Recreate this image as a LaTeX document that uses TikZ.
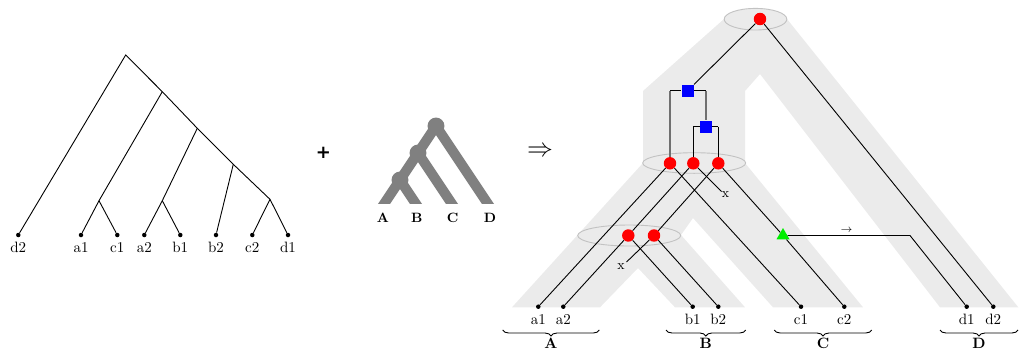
\documentclass[tikz,border=0pt]{standalone}
\usepackage{fontspec}
\newfontfamily\plusfont{DejaVu Sans}
\usetikzlibrary{shapes.geometric,decorations.pathreplacing}
\definecolor{bandgray}{HTML}{EBEBEB}
\definecolor{ringgray}{HTML}{C2C2C2}
\definecolor{sptree}{HTML}{808080}
\definecolor{dupline}{HTML}{707070}
\definecolor{transgreen}{HTML}{00EE00}
\begin{document}
\begin{tikzpicture}[x=0.667pt,y=-0.667pt,
  gline/.style={line width=0.6pt, black},
  leafdot/.style={circle, fill=black, inner sep=0pt, minimum size=3pt},
  specnode/.style={circle, fill=red, inner sep=0pt, minimum size=8.3pt},
  dupnode/.style={rectangle, fill=blue, inner sep=0pt, minimum size=8pt},
  transnode/.style={regular polygon, regular polygon sides=3, fill=transgreen, inner sep=0pt, minimum size=10pt},
  leaflab/.style={anchor=base, inner sep=0pt, font=\normalsize},
  splab/.style={anchor=base, inner sep=0pt, font=\small\bfseries},
  grouplab/.style={anchor=base, inner sep=0pt, font=\normalsize\bfseries},
  losslab/.style={inner sep=0pt, font=\small},
  ring/.style={draw=ringgray, fill=bandgray, line width=0.6pt},
  spbranch/.style={draw=sptree, line width=6.7pt, line join=round},
  spdot/.style={circle, fill=sptree, inner sep=0pt, minimum size=11.3pt},
  groupbrace/.style={decorate, decoration={brace, mirror, amplitude=4pt}, line width=0.6pt}]
\useasboundingbox (0,0) rectangle (1019,354);

% ---------------- left gene tree ----------------
\coordinate (L0) at (125.7,55);
\coordinate (L1) at (162.3,91.7);
\coordinate (L2) at (197.3,128.3);
\coordinate (L3) at (233.3,164.3);
\coordinate (L4) at (270,199.3);
\coordinate (Lac) at (99,200.7);
\coordinate (Lab) at (162.3,200.7);
\node[leafdot] (ld2) at (18.3,235) {};
\node[leafdot] (la1) at (81,235) {};
\node[leafdot] (lc1) at (117.3,235) {};
\node[leafdot] (la2) at (144.3,235) {};
\node[leafdot] (lb1) at (180.3,235) {};
\node[leafdot] (lb2) at (216,235) {};
\node[leafdot] (lc2) at (252.3,235) {};
\node[leafdot] (ld1) at (288,235) {};
\draw[gline] (ld2) -- (L0) -- (L1) -- (L2) -- (L3) -- (L4) -- (ld1);
\draw[gline] (L1) -- (Lac);
\draw[gline] (Lac) -- (la1);
\draw[gline] (Lac) -- (lc1);
\draw[gline] (L2) -- (Lab);
\draw[gline] (Lab) -- (la2);
\draw[gline] (Lab) -- (lb1);
\draw[gline] (L3) -- (lb2);
\draw[gline] (L4) -- (lc2);
\node[leaflab] (tld2) at (18.3,252.3) {d2};
\node[leaflab] (tla1) at (81,252.3) {a1};
\node[leaflab] (tlc1) at (117.3,252.3) {c1};
\node[leaflab] (tla2) at (144.3,252.3) {a2};
\node[leaflab] (tlb1) at (180.3,252.3) {b1};
\node[leaflab] (tlb2) at (216,252.3) {b2};
\node[leaflab] (tlc2) at (252.3,252.3) {c2};
\node[leaflab] (tld1) at (288,252.3) {d1};

% ---------------- plus ----------------
\node[inner sep=0pt, font=\large\plusfont\bfseries] (plus) at (323.3,153.3) {+};

% ---------------- species tree ----------------
\coordinate (sproot) at (436,126);
\coordinate (spmid) at (418,153);
\coordinate (splow) at (400,180);
\coordinate (spA) at (378,213);
\coordinate (spB) at (422,213);
\coordinate (spC) at (458,213);
\coordinate (spD) at (494,213);
\begin{scope}
  \clip (360,100) rectangle (520,203.3);
  \draw[spbranch] (sproot) -- (spD);
  \draw[spbranch] (sproot) -- (spmid) -- (splow) -- (spA);
  \draw[spbranch] (spmid) -- (spC);
  \draw[spbranch] (splow) -- (spB);
\end{scope}
\node[spdot] (sprootdot) at (sproot) {};
\node[spdot] (spmiddot) at (spmid) {};
\node[spdot] (splowdot) at (splow) {};
\node[splab] (spAl) at (382.8,222.7) {A};
\node[splab] (spBl) at (416.7,222.7) {B};
\node[splab] (spCl) at (452.7,222.7) {C};
\node[splab] (spDl) at (490,222.7) {D};

% ---------------- implies ----------------
\node[font=\LARGE, inner sep=0pt] (imp) at (540,151.7) {$\Rightarrow$};

% ---------------- reconciliation background ----------------
\fill[bandgray] (724,19) -- (643,91) -- (643,163) -- (512,307.3) -- (600,307.3)
  -- (638,268) -- (675,307.3) -- (745,307.3) -- (681,235) -- (693,218)
  -- (773,307.3) -- (863,307.3) -- (745,163) -- (745,91) -- (760,74)
  -- (940,307.3) -- (1018.3,307.3) -- (787,19) -- cycle;
\path[ring] (755.5,19.2) ellipse [x radius=31.3, y radius=10.8];
\path[ring] (694.2,163) ellipse [x radius=51.5, y radius=10.3];
\path[ring] (629.2,235.5) ellipse [x radius=51.5, y radius=10.5];

% ---------------- reconciled gene tree ----------------
\node[specnode] (g0) at (760,19) {};
\node[dupnode] (g1) at (687.7,90.7) {};
\node[dupnode] (g2) at (706,126.7) {};
\node[specnode] (s1) at (670,163.3) {};
\node[specnode] (s2) at (693.3,163.3) {};
\node[specnode] (s3) at (718.3,163.3) {};
\node[specnode] (t1) at (628.3,235.5) {};
\node[specnode] (t2) at (654,235.5) {};
\node[transnode] (tr) at (783,235.5) {};
\node[leafdot] (ga1) at (538.3,306.7) {};
\node[leafdot] (ga2) at (563.3,306.7) {};
\node[leafdot] (gb1) at (692.7,306.7) {};
\node[leafdot] (gb2) at (718.3,306.7) {};
\node[leafdot] (gc1) at (801,306.7) {};
\node[leafdot] (gc2) at (844.3,306.7) {};
\node[leafdot] (gd1) at (966.7,306.7) {};
\node[leafdot] (gd2) at (993.3,306.7) {};
\coordinate (g1l) at (670,90.7);
\coordinate (g1r) at (706,90.7);
\coordinate (g2l) at (693.3,126.7);
\coordinate (g2r) at (718.3,126.7);
\coordinate (x1e) at (721.5,191.5);
\coordinate (x2e) at (626.5,262);
\coordinate (tc) at (910,235.5);

\draw[gline] (g0) -- (g1);
\draw[gline] (g0) -- (gd2);
\draw[gline] (g1l) -- (g1);
\draw[gline] (g1) -- (g1r);
\draw[draw=dupline, line width=1pt] (g1l) -- (s1);
\draw[draw=dupline, line width=1pt] (g1r) -- (g2);
\draw[gline] (g2l) -- (g2);
\draw[gline] (g2) -- (g2r);
\draw[gline] (g2l) -- (s2);
\draw[gline] (g2r) -- (s3);
\draw[gline] (s1) -- (ga1);
\draw[gline] (s1) -- (gc1);
\draw[gline] (s2) -- (t1);
\draw[gline] (s2) -- (x1e);
\draw[gline] (t1) -- (ga2);
\draw[gline] (t1) -- (gb1);
\draw[gline] (s3) -- (t2);
\draw[gline] (s3) -- (tr);
\draw[gline] (t2) -- (x2e);
\draw[gline] (t2) -- (gb2);
\draw[gline] (tr) -- (gc2);
\draw[gline] (tr) -- (tc) -- (gd1);

\node[losslab] (x1) at (725.5,195) {x};
\node[losslab] (x2) at (621,266.7) {x};
\node[inner sep=0pt] (tarrow) at (846.5,230.5) {$\scriptstyle\rightarrow$};

\node[leaflab] (tga1) at (538.3,324) {a1};
\node[leaflab] (tga2) at (563.3,324) {a2};
\node[leaflab] (tgb1) at (692.7,324) {b1};
\node[leaflab] (tgb2) at (718.3,324) {b2};
\node[leaflab] (tgc1) at (801,324) {c1};
\node[leaflab] (tgc2) at (844.3,324) {c2};
\node[leaflab] (tgd1) at (966.7,324) {d1};
\node[leaflab] (tgd2) at (993.3,324) {d2};

% ---------------- group braces ----------------
\coordinate (bAl) at (502.7,330);
\coordinate (bAr) at (599.3,330);
\coordinate (bBl) at (666,330);
\coordinate (bBr) at (745.7,330);
\coordinate (bCl) at (774.3,330);
\coordinate (bCr) at (871.7,330);
\coordinate (bDl) at (940,330);
\coordinate (bDr) at (1018,330);
\draw[groupbrace] (bAl) -- (bAr);
\draw[groupbrace] (bBl) -- (bBr);
\draw[groupbrace] (bCl) -- (bCr);
\draw[groupbrace] (bDl) -- (bDr);
\node[grouplab] (gA) at (551,348.3) {A};
\node[grouplab] (gB) at (705.8,348.3) {B};
\node[grouplab] (gC) at (823,348.3) {C};
\node[grouplab] (gD) at (979,348.3) {D};
\end{tikzpicture}
\end{document}
